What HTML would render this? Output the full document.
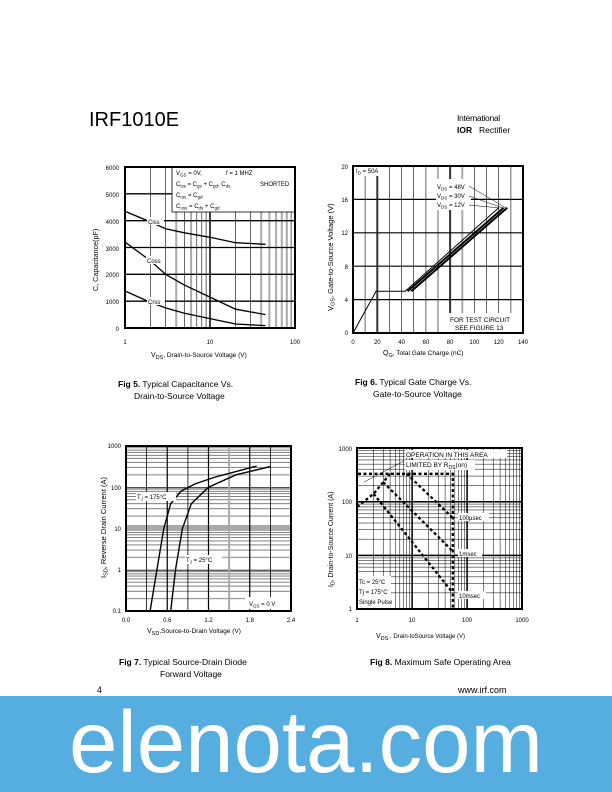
<!DOCTYPE html>
<html><head><meta charset="utf-8"><style>
html,body{margin:0;padding:0;background:#fff}
svg{display:block}
text{font-family:"Liberation Sans",Arial,sans-serif;fill:#000}
</style></head><body>
<svg width="612" height="792" viewBox="0 0 612 792" xmlns="http://www.w3.org/2000/svg">
<defs>
<pattern id="p3h" patternUnits="userSpaceOnUse" x="0" y="446" width="612" height="41.25">
<g stroke="#000" stroke-width="0.5"><line x1="0" x2="612" y1="0.3" y2="0.3" stroke-width="1.2"/><line x1="0" x2="612" y1="28.85" y2="28.85" stroke="#999" stroke-width="1.2"/><line x1="0" x2="612" y1="21.55" y2="21.55"/><line x1="0" x2="612" y1="16.45" y2="16.45"/><line x1="0" x2="612" y1="12.45" y2="12.45"/><line x1="0" x2="612" y1="9.15" y2="9.15"/><line x1="0" x2="612" y1="6.35" y2="6.35"/><line x1="0" x2="612" y1="4.05" y2="4.05"/><line x1="0" x2="612" y1="1.85" y2="1.85"/></g></pattern>
<pattern id="p4h" patternUnits="userSpaceOnUse" x="0" y="448" width="612" height="53.67">
<g stroke="#000" stroke-width="0.5"><line x1="0" x2="612" y1="0.3" y2="0.3" stroke-width="1"/><line x1="0" x2="612" y1="37.5" y2="37.5"/><line x1="0" x2="612" y1="28.06" y2="28.06"/><line x1="0" x2="612" y1="21.36" y2="21.36"/><line x1="0" x2="612" y1="16.16" y2="16.16"/><line x1="0" x2="612" y1="11.9" y2="11.9"/><line x1="0" x2="612" y1="8.3" y2="8.3"/><line x1="0" x2="612" y1="5.2" y2="5.2"/><line x1="0" x2="612" y1="2.46" y2="2.46"/></g></pattern>
<pattern id="p4v" patternUnits="userSpaceOnUse" x="357" y="0" width="55" height="792">
<g stroke="#000" stroke-width="0.5"><line y1="0" y2="792" x1="0.3" x2="0.3" stroke-width="1"/><line y1="0" y2="792" x1="16.56" x2="16.56"/><line y1="0" y2="792" x1="26.24" x2="26.24"/><line y1="0" y2="792" x1="33.1" x2="33.1"/><line y1="0" y2="792" x1="38.4" x2="38.4"/><line y1="0" y2="792" x1="42.8" x2="42.8"/><line y1="0" y2="792" x1="46.5" x2="46.5"/><line y1="0" y2="792" x1="49.7" x2="49.7"/><line y1="0" y2="792" x1="52.5" x2="52.5"/></g></pattern>
</defs>

<!-- header -->
<text x="89" y="126" font-size="20">IRF1010E</text>
<text x="457" y="121" font-size="8.5" letter-spacing="-0.3">International</text>
<text x="457" y="133" font-size="8.5" font-weight="bold">IOR</text><text x="479" y="133" font-size="8.5">Rectifier</text>

<!-- CHART 1 -->
<g stroke="#000" stroke-width="0.6">
<line x1="150.6" x2="150.6" y1="167" y2="328"/><line x1="165.6" x2="165.6" y1="167" y2="328"/>
<line x1="176.2" x2="176.2" y1="167" y2="328" stroke="#aaa" stroke-width="2"/><line x1="184.4" x2="184.4" y1="167" y2="328"/>
<line x1="191.1" x2="191.1" y1="167" y2="328" stroke="#aaa" stroke-width="2"/><line x1="196.8" x2="196.8" y1="167" y2="328"/>
<line x1="201.8" x2="201.8" y1="167" y2="328"/><line x1="206.1" x2="206.1" y1="167" y2="328"/>
<line x1="210" x2="210" y1="167" y2="328" stroke-width="1.5"/>
<line x1="235.6" x2="235.6" y1="167" y2="328"/><line x1="250.6" x2="250.6" y1="167" y2="328"/>
<line x1="261.2" x2="261.2" y1="167" y2="328" stroke="#aaa" stroke-width="2"/><line x1="269.4" x2="269.4" y1="167" y2="328" stroke="#aaa" stroke-width="2"/>
<line x1="276.1" x2="276.1" y1="167" y2="328" stroke="#aaa" stroke-width="2"/><line x1="281.8" x2="281.8" y1="167" y2="328" stroke="#aaa" stroke-width="2"/>
<line x1="286.8" x2="286.8" y1="167" y2="328" stroke="#aaa" stroke-width="2"/><line x1="291.1" x2="291.1" y1="167" y2="328"/>
<g stroke-width="1.3"><line x1="125" x2="295" y1="301.2" y2="301.2"/><line x1="125" x2="295" y1="274.3" y2="274.3"/><line x1="125" x2="295" y1="247.5" y2="247.5"/><line x1="125" x2="295" y1="220.7" y2="220.7"/><line x1="125" x2="295" y1="193.8" y2="193.8"/></g>
</g>
<rect x="172" y="167" width="123" height="45" fill="#fff" stroke="#000" stroke-width="0.8"/>
<rect x="125" y="167" width="170" height="161" fill="none" stroke="#000" stroke-width="2"/>
<g fill="none" stroke="#000" stroke-width="1.3">
<polyline points="125,211.3 150.6,222 165.6,228.7 184.4,232.8 210,237.3 235.6,242.7 265.5,244.3"/>
<polyline points="125,242.1 150.6,260.9 165.6,274.3 184.4,285.1 210,297.1 235.6,309.2 265.5,314.6"/>
<polyline points="125,291 150.6,302.5 165.6,307.9 184.4,313.2 210,318.6 235.6,324 265.5,325.6"/>
</g>
<g font-size="6">
<rect x="147" y="217" width="17" height="8" fill="#fff"/><text x="148" y="224">Ciss</text>
<rect x="146" y="256" width="19" height="8" fill="#fff"/><text x="147" y="263">Coss</text>
<rect x="147" y="297" width="18" height="8" fill="#fff"/><text x="148" y="304">Crss</text>
<text x="176" y="175">V<tspan font-size="4.5" dy="1.5">GS</tspan><tspan dy="-1.5"> = 0V,</tspan><tspan x="226">f = 1 MHZ</tspan></text>
<text x="176" y="186">C<tspan font-size="4.5" dy="1.5">iss</tspan><tspan dy="-1.5">  = C</tspan><tspan font-size="4.5" dy="1.5">gs</tspan><tspan dy="-1.5"> + C</tspan><tspan font-size="4.5" dy="1.5">gd</tspan><tspan dy="-1.5">,  C</tspan><tspan font-size="4.5" dy="1.5">ds</tspan><tspan dy="-1.5" x="260">SHORTED</tspan></text>
<text x="176" y="197">C<tspan font-size="4.5" dy="1.5">rss</tspan><tspan dy="-1.5">  = C</tspan><tspan font-size="4.5" dy="1.5">gd</tspan></text>
<text x="176" y="208">C<tspan font-size="4.5" dy="1.5">oss</tspan><tspan dy="-1.5">  = C</tspan><tspan font-size="4.5" dy="1.5">ds</tspan><tspan dy="-1.5"> + C</tspan><tspan font-size="4.5" dy="1.5">gd</tspan></text>
<g text-anchor="end"><text x="119" y="170">6000</text><text x="119" y="197">5000</text><text x="119" y="224">4000</text><text x="119" y="251">3000</text><text x="119" y="277">2000</text><text x="119" y="304">1000</text><text x="119" y="331">0</text></g>
<g text-anchor="middle"><text x="125" y="344">1</text><text x="210" y="344">10</text><text x="295" y="344">100</text></g>
<text x="151" y="357" font-size="7">V<tspan font-size="5.5" dy="2">DS</tspan><tspan dy="-2" font-size="6.5">, Drain-to-Source Voltage (V)</tspan></text>
<text transform="translate(98,291) rotate(-90)" font-size="7.2">C, Capacitance(pF)</text>
</g>
<text x="118" y="387" font-size="8.5"><tspan font-weight="bold">Fig 5.</tspan>  Typical Capacitance Vs.</text>
<text x="134" y="399" font-size="8.5">Drain-to-Source Voltage</text>

<!-- CHART 2 -->
<g stroke="#000" stroke-width="0.6">
<line x1="365.1" x2="365.1" y1="166" y2="333"/><line x1="377.3" x2="377.3" y1="166" y2="333" stroke-width="2" stroke="#333"/>
<line x1="389.4" x2="389.4" y1="166" y2="333"/><line x1="401.6" x2="401.6" y1="166" y2="333"/>
<line x1="413.7" x2="413.7" y1="166" y2="333"/><line x1="425.9" x2="425.9" y1="166" y2="333"/>
<line x1="438" x2="438" y1="166" y2="333"/><line x1="450.1" x2="450.1" y1="166" y2="333" stroke-width="2" stroke="#333"/>
<line x1="462.3" x2="462.3" y1="166" y2="333" stroke-width="2" stroke="#aaa"/><line x1="474.4" x2="474.4" y1="166" y2="333"/>
<line x1="486.6" x2="486.6" y1="166" y2="333"/><line x1="498.7" x2="498.7" y1="166" y2="333"/>
<line x1="510.9" x2="510.9" y1="166" y2="333"/>
<g stroke-width="1.2"><line x1="353" x2="523" y1="299.6" y2="299.6"/><line x1="353" x2="523" y1="266.2" y2="266.2"/><line x1="353" x2="523" y1="232.8" y2="232.8"/><line x1="353" x2="523" y1="199.4" y2="199.4"/></g>
</g>
<rect x="353" y="166" width="170" height="167" fill="none" stroke="#000" stroke-width="2"/>
<rect x="354" y="167" width="32" height="9" fill="#fff"/>
<rect x="436" y="179" width="35" height="31" fill="#fff"/>
<rect x="446" y="313" width="76" height="19" fill="#fff"/>
<g fill="none" stroke="#000">
<polyline points="353,333 376.1,291.25 405.2,291.25 498.7,207.75" stroke-width="1"/>
<line x1="407.6" y1="291.25" x2="503.6" y2="207.75" stroke-width="2"/>
<line x1="411.3" y1="291.25" x2="507.2" y2="207.75" stroke-width="2"/>
<g stroke-width="0.5"><line x1="469" y1="186" x2="506" y2="208"/><line x1="469" y1="196" x2="503" y2="208"/><line x1="469" y1="205" x2="500" y2="208"/></g>
</g>
<g font-size="6">
<text x="356" y="173">I<tspan font-size="4.5" dy="1.5">D</tspan><tspan dy="-1.5"> = 50A</tspan></text>
<text x="437" y="189">V<tspan font-size="4.5" dy="1.5">DS</tspan><tspan dy="-1.5"> = 48V</tspan></text>
<text x="437" y="198">V<tspan font-size="4.5" dy="1.5">DS</tspan><tspan dy="-1.5"> = 30V</tspan></text>
<text x="437" y="207">V<tspan font-size="4.5" dy="1.5">DS</tspan><tspan dy="-1.5"> = 12V</tspan></text>
<text x="450" y="322" font-size="6.5">FOR TEST CIRCUIT</text>
<text x="455" y="330" font-size="6.5">SEE FIGURE 13</text>
<g text-anchor="end"><text x="348" y="169">20</text><text x="348" y="202">16</text><text x="348" y="235">12</text><text x="348" y="269">8</text><text x="348" y="302">4</text><text x="348" y="335">0</text></g>
<g text-anchor="middle"><text x="353" y="344">0</text><text x="377.3" y="344">20</text><text x="401.6" y="344">40</text><text x="425.9" y="344">60</text><text x="450.1" y="344">80</text><text x="474.4" y="344">100</text><text x="498.7" y="344">120</text><text x="523" y="344">140</text></g>
<text x="383" y="355" font-size="7">Q<tspan font-size="5.5" dy="2">G</tspan><tspan dy="-2" font-size="6.5">, Total Gate Charge (nC)</tspan></text>
<text transform="translate(333,311) rotate(-90)" font-size="7.5">V<tspan font-size="5.5" dy="1.5">GS</tspan><tspan dy="-1.5">, Gate-to-Source Voltage (V)</tspan></text>
</g>
<text x="355" y="385" font-size="8.5"><tspan font-weight="bold">Fig 6.</tspan>  Typical Gate Charge Vs.</text>
<text x="373" y="397" font-size="8.5">Gate-to-Source Voltage</text>

<!-- CHART 3 -->
<rect x="126" y="446" width="165" height="165" fill="url(#p3h)"/>
<rect x="126" y="525" width="165" height="6" fill="#aaa"/>
<g stroke="#000" stroke-width="0.8">
<line x1="146.6" x2="146.6" y1="446" y2="611"/><line x1="167.25" x2="167.25" y1="446" y2="611" stroke-width="1.2"/>
<line x1="187.9" x2="187.9" y1="446" y2="611"/><line x1="208.5" x2="208.5" y1="446" y2="611" stroke-width="1.2"/>
<line x1="229.1" x2="229.1" y1="446" y2="611" stroke="#aaa" stroke-width="2"/><line x1="249.75" x2="249.75" y1="446" y2="611" stroke-width="1.2"/>
<line x1="270.4" x2="270.4" y1="446" y2="611"/>
</g>
<rect x="126" y="446" width="165" height="165" fill="none" stroke="#000" stroke-width="2"/>
<g fill="none" stroke="#000" stroke-width="1.4">
<polyline points="150.1,611 156.9,569.75 163.8,528.5 170.7,503.7 181,491.2 194.75,484 215.4,477 256.6,466.1"/>
<polyline points="170.7,611 175.5,569.75 182.4,528.5 191.3,503.7 208.5,487.25 236,474.8 270.4,466.6"/>
</g>
<g font-size="6">
<rect x="136" y="492" width="40" height="9" fill="#fff"/><text x="137" y="499">T<tspan font-size="4.5" dy="1.5">J</tspan><tspan dy="-1.5"> = 175°C</tspan></text>
<rect x="185" y="555" width="37" height="9" fill="#fff"/><text x="186" y="562">T<tspan font-size="4.5" dy="1.5">J</tspan><tspan dy="-1.5"> = 25°C</tspan></text>
<rect x="245" y="597" width="45" height="12" fill="#fff"/><text x="249" y="606">V<tspan font-size="4.5" dy="1.5">GS</tspan><tspan dy="-1.5"> = 0 V</tspan></text>
<g text-anchor="end"><text x="121" y="448">1000</text><text x="121" y="490">100</text><text x="121" y="531">10</text><text x="121" y="572">1</text><text x="121" y="613">0.1</text></g>
<g text-anchor="middle"><text x="126" y="622">0.0</text><text x="167.25" y="622">0.6</text><text x="208.5" y="622">1.2</text><text x="249.75" y="622">1.8</text><text x="291" y="622">2.4</text></g>
<text x="147" y="633" font-size="7">V<tspan font-size="5.5" dy="2">SD</tspan><tspan dy="-2" font-size="6.5">,Source-to-Drain Voltage (V)</tspan></text>
<text transform="translate(106,578) rotate(-90)" font-size="7.5">I<tspan font-size="5.5" dy="1.5">SD</tspan><tspan dy="-1.5">, Reverse Drain Current (A)</tspan></text>
</g>
<text x="119" y="665" font-size="8.5"><tspan font-weight="bold">Fig 7.</tspan>  Typical Source-Drain Diode</text>
<text x="160" y="677" font-size="8.5">Forward Voltage</text>

<!-- CHART 4 -->
<rect x="357" y="448" width="165" height="161" fill="url(#p4h)"/>
<rect x="357" y="448" width="165" height="161" fill="url(#p4v)"/>
<g stroke="#000" stroke-width="1.3"><line x1="357" x2="522" y1="555.3" y2="555.3"/><line x1="357" x2="522" y1="501.7" y2="501.7"/><line x1="412" x2="412" y1="448" y2="609"/><line x1="467" x2="467" y1="448" y2="609"/></g>
<rect x="357" y="448" width="165" height="161" fill="none" stroke="#000" stroke-width="2"/>
<rect x="405" y="450" width="102" height="8" fill="#fff"/>
<rect x="405" y="460" width="70" height="10" fill="#fff"/>
<rect x="358" y="576" width="33" height="32" fill="#fff"/>
<g fill="none" stroke="#000" stroke-width="2.3" stroke-dasharray="3,2.5">
<polyline points="358,473.8 452.8,473.8 452.8,609"/>
<polyline points="357,506.9 373.6,493.8 383.2,482.2 390.1,473.8"/>
<line x1="406.7" y1="473.8" x2="452.7" y2="517.8"/>
<line x1="383.2" y1="482.2" x2="452.7" y2="551.1"/>
<line x1="373.6" y1="493.8" x2="452.7" y2="592.8"/>
</g>
<line x1="364" y1="482" x2="404" y2="461" stroke="#000" stroke-width="0.5"/>
<g font-size="6">
<rect x="458" y="513" width="31" height="8" fill="#fff"/><text x="459" y="520">100µsec</text>
<rect x="458" y="549" width="24" height="8" fill="#fff"/><text x="459" y="556">1msec</text>
<rect x="458" y="591" width="28" height="8" fill="#fff"/><text x="459" y="598">10msec</text>
<text x="406" y="457" font-size="6.5">OPERATION IN THIS AREA</text>
<text x="406" y="467" font-size="6.5">LIMITED BY R<tspan font-size="5" dy="2">DS</tspan><tspan dy="-2">(on)</tspan></text>
<text x="359" y="584">Tc = 25°C</text><text x="359" y="594">Tj = 175°C</text><text x="359" y="604">Single Pulse</text>
<g text-anchor="end"><text x="352" y="451">1000</text><text x="352" y="504">100</text><text x="352" y="558">10</text><text x="352" y="611">1</text></g>
<g text-anchor="middle"><text x="357" y="622">1</text><text x="412" y="622">10</text><text x="467" y="622">100</text><text x="522" y="622">1000</text></g>
<text x="376" y="638" font-size="7">V<tspan font-size="5.5" dy="2">DS</tspan><tspan dy="-2" font-size="6"> , Drain-toSource Voltage (V)</tspan></text>
<text transform="translate(333,587) rotate(-90)" font-size="7">I<tspan font-size="5" dy="1.5">D</tspan><tspan dy="-1.5">,  Drain-to-Source Current (A)</tspan></text>
</g>
<text x="370" y="665" font-size="8.5"><tspan font-weight="bold">Fig 8.</tspan>  Maximum Safe Operating Area</text>

<!-- footer -->
<text x="97" y="693" font-size="9">4</text>
<text x="458" y="693" font-size="9">www.irf.com</text>
<rect x="0" y="696" width="612" height="96" fill="#55ADE0"/>
<text x="306" y="772" font-size="87" text-anchor="middle" style="fill:#fff">elenota.com</text>
</svg>
</body></html>
